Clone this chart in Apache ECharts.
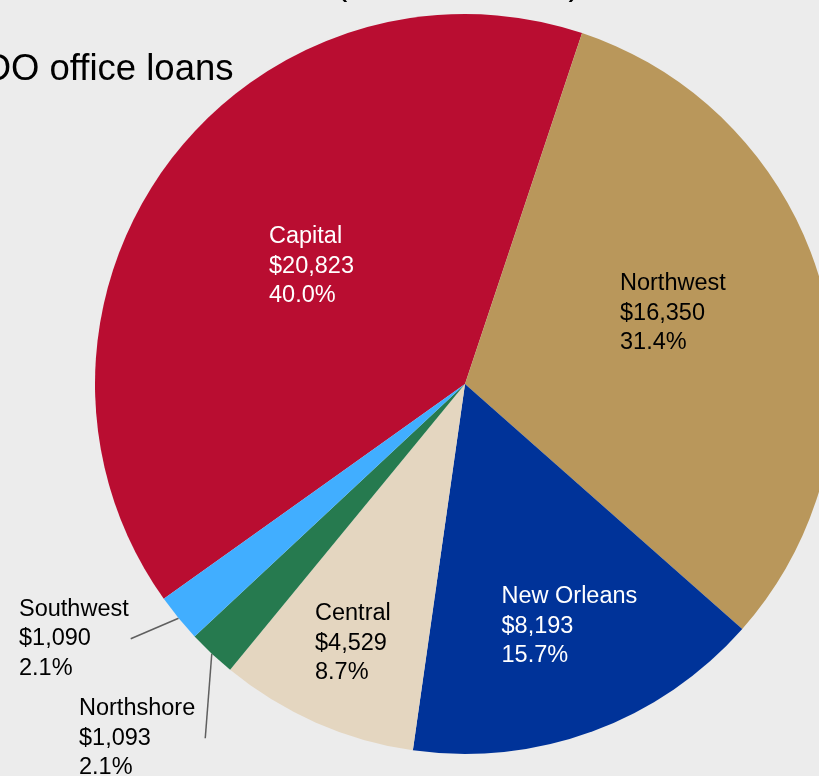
<!DOCTYPE html>
<html>
<head>
<meta charset="utf-8">
<script src="https://cdn.jsdelivr.net/npm/echarts@6/dist/echarts.min.js"></script>
<style>
  html, body { margin: 0; padding: 0; background: #ececec; }
  #chart { width: 819px; height: 776px; }
</style>
</head>
<body>
<div id="chart"></div>
<script>
// Office loans by region ($ thousands)
const regions = ['Capital', 'Northwest', 'New Orleans', 'Central', 'Northshore', 'Southwest'];
const loanAmounts = [20823, 16350, 8193, 4529, 1093, 1090];

// Slice fills and label text colours, in region order
const sliceColors = ['#b90d31', '#b9975b', '#003399', '#e4d6c0', '#267a4f', '#41aeff'];
const labelColors = ['#ffffff', '#000000', '#ffffff', '#000000', '#000000', '#000000'];

// Top-left corner of each label block; the two small regions sit outside with leader lines
const labelBoxes = [[269, 222], [620, 269], [501.5, 582], [315, 599], [79, 694], [19, 594.5]];
const outsideLabel = [false, false, false, false, true, true];
const leaderGap = [0, 0, 0, 0, 10, 2];

const FONT = '"Liberation Sans", Arial, sans-serif';

const chart = echarts.init(document.getElementById('chart'), null, { renderer: 'canvas' });

const fmtMoney = v => '$' + v.toLocaleString('en-US');

chart.setOption({
  backgroundColor: '#ececec',
  animation: false,
  graphic: [
    {
      type: 'text',
      style: {
        text: 'Regional share of DO office loans',
        x: 233.5, y: 70,
        align: 'right', verticalAlign: 'middle',
        font: '36.5px ' + FONT,
        fill: '#000'
      }
    },
    {
      type: 'text',
      style: {
        text: '($ in thousands)',
        x: 458, y: -14,
        align: 'center', verticalAlign: 'middle',
        font: '34px ' + FONT,
        fill: '#000'
      }
    }
  ],
  series: [{
    type: 'pie',
    center: [465, 384],
    radius: 370,
    startAngle: 215.5,
    clockwise: true,
    avoidLabelOverlap: false,
    percentPrecision: 1,
    itemStyle: { borderWidth: 0 },
    emphasis: { disabled: true },
    labelLine: {
      lineStyle: { color: '#5f5f5f', width: 1.5 }
    },
    data: regions.map((name, i) => ({
      name,
      value: loanAmounts[i],
      itemStyle: { color: sliceColors[i] },
      label: {
        show: true,
        position: outsideLabel[i] ? 'outside' : 'inside',
        color: labelColors[i],
        fontFamily: FONT,
        fontSize: 23.5,
        lineHeight: 29.5,
        align: 'left',
        formatter: p => p.name + '\n' + fmtMoney(p.value) + '\n' + p.percent.toFixed(1) + '%'
      },
      labelLine: { show: outsideLabel[i], length: 10, length2: 10 }
    })),
    labelLayout: function (params) {
      const i = params.dataIndex;
      const box = labelBoxes[i];
      const out = {
        x: box[0],
        y: box[1],
        align: 'left',
        verticalAlign: 'top',
        hideOverlap: false
      };
      if (outsideLabel[i] && params.labelLinePoints) {
        const start = params.labelLinePoints[0];
        const r = params.labelRect;
        out.labelLinePoints = [
          start,
          [box[0] + r.width + leaderGap[i], box[1] + r.height / 2]
        ];
      }
      return out;
    }
  }]
});
</script>
</body>
</html>
